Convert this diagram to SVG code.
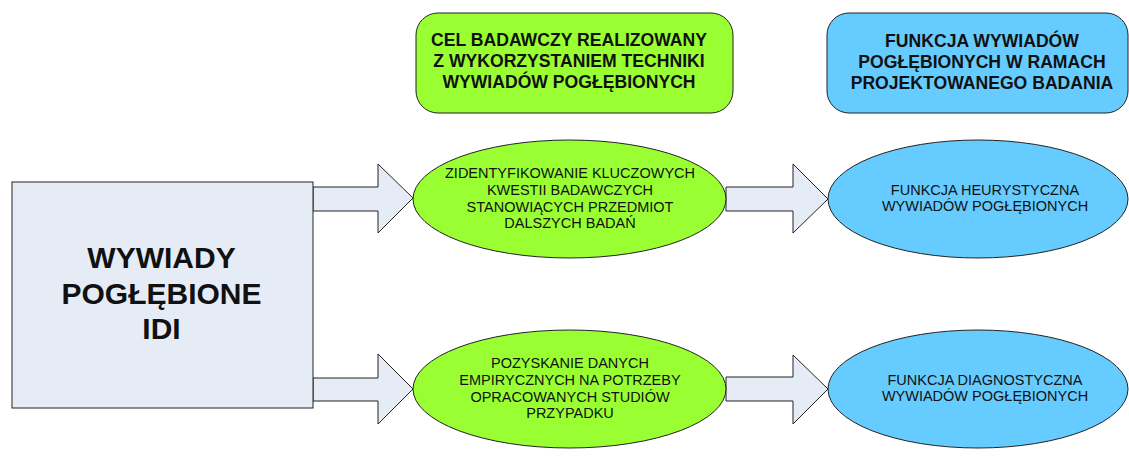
<svg xmlns="http://www.w3.org/2000/svg" width="1129" height="459" viewBox="0 0 1129 459">
<style>
.shape{stroke:#222;stroke-width:1}
.arrow{fill:#E6ECF6;stroke:#222;stroke-width:1}
.green{fill:#99FF33}
.blue{fill:#66CCFF}
.hdr{font-family:"Liberation Sans",Arial,sans-serif;font-weight:bold;font-size:17.6px;fill:#111;text-anchor:middle}
.lbl{font-family:"Liberation Sans",Arial,sans-serif;font-size:14.5px;fill:#111;text-anchor:middle}
.big{font-family:"Liberation Sans",Arial,sans-serif;font-weight:bold;font-size:30px;fill:#111;text-anchor:middle}
</style>
<rect width="1129" height="459" fill="#ffffff"/>
<g id="connectors">
<polygon class="arrow" points="313,187 378,187 378,164 413,198 378,233 378,211 313,211"/>
<polygon class="arrow" points="313,378 378,378 378,354 413,389 378,424 378,401 313,401"/>
<polygon class="arrow" points="726,187 793,187 793,164 828,199 793,233 793,211 726,211"/>
<polygon class="arrow" points="726,377 793,377 793,355 828,389 793,424 793,401 726,401"/>
</g>
<g id="header-cel">
<rect class="shape green" x="416" y="13" width="317" height="100" rx="22" ry="22"/>
<text class="hdr" x="569" y="46">CEL BADAWCZY REALIZOWANY</text>
<text class="hdr" x="569" y="67">Z WYKORZYSTANIEM TECHNIKI</text>
<text class="hdr" x="569" y="88">WYWIADÓW POGŁĘBIONYCH</text>
</g>
<g id="header-funkcja">
<rect class="shape blue" x="827" y="13" width="301" height="100" rx="22" ry="22"/>
<text class="hdr" x="982" y="47">FUNKCJA WYWIADÓW</text>
<text class="hdr" x="982" y="68">POGŁĘBIONYCH W RAMACH</text>
<text class="hdr" x="982" y="89">PROJEKTOWANEGO BADANIA</text>
</g>
<g id="idi">
<rect class="shape" x="12" y="182" width="301" height="226" fill="#E6ECF6"/>
<text class="big" x="161.5" y="268">WYWIADY</text>
<text class="big" x="161.5" y="304">POGŁĘBIONE</text>
<text class="big" x="161.5" y="339">IDI</text>
</g>
<g id="cel1">
<ellipse class="shape green" cx="569.5" cy="199" rx="156.5" ry="59"/>
<text class="lbl" x="570" y="178">ZIDENTYFIKOWANIE KLUCZOWYCH</text>
<text class="lbl" x="570" y="195">KWESTII BADAWCZYCH</text>
<text class="lbl" x="570" y="212">STANOWIĄCYCH PRZEDMIOT</text>
<text class="lbl" x="570" y="228">DALSZYCH BADAŃ</text>
</g>
<g id="cel2">
<ellipse class="shape green" cx="569.5" cy="389" rx="156.5" ry="59"/>
<text class="lbl" x="570" y="368">POZYSKANIE DANYCH</text>
<text class="lbl" x="570" y="385">EMPIRYCZNYCH NA POTRZEBY</text>
<text class="lbl" x="570" y="402">OPRACOWANYCH STUDIÓW</text>
<text class="lbl" x="570" y="418">PRZYPADKU</text>
</g>
<g id="funkcja1">
<ellipse class="shape blue" cx="978" cy="199" rx="150" ry="59"/>
<text class="lbl" x="985" y="195">FUNKCJA HEURYSTYCZNA</text>
<text class="lbl" x="985" y="211">WYWIADÓW POGŁĘBIONYCH</text>
</g>
<g id="funkcja2">
<ellipse class="shape blue" cx="978" cy="389" rx="150" ry="59"/>
<text class="lbl" x="985" y="385">FUNKCJA DIAGNOSTYCZNA</text>
<text class="lbl" x="985" y="401">WYWIADÓW POGŁĘBIONYCH</text>
</g>
</svg>
